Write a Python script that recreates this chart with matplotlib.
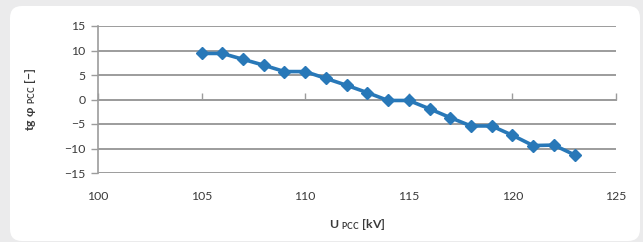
import matplotlib
matplotlib.use("Agg")
import matplotlib.pyplot as plt
from matplotlib.patches import FancyBboxPatch

u_pcc = [105, 106, 107, 108, 109, 110, 111, 112, 113, 114, 115, 116, 117, 118, 119, 120, 121, 122, 123]
tg_phi = [9.4, 9.4, 8.2, 7.0, 5.7, 5.7, 4.3, 2.9, 1.4, -0.2, -0.2, -1.9, -3.7, -5.4, -5.4, -7.3, -9.4, -9.3, -11.3]
x_ticks = [100, 105, 110, 115, 120, 125]
y_ticks = [-15, -10, -5, 0, 5, 10, 15]

plt.rcParams['font.family'] = ['Lato', 'DejaVu Sans']
plt.rcParams['mathtext.fontset'] = 'custom'
plt.rcParams['mathtext.rm'] = 'Lato:weight=bold'
plt.rcParams['mathtext.bf'] = 'Lato:weight=bold'
plt.rcParams['mathtext.it'] = 'Lato:weight=bold'

W, H = 643, 242
fig = plt.figure(figsize=(W / 100, H / 100), dpi=100)
fig.patch.set_facecolor('#ebebec')

panel = FancyBboxPatch((0.10, 0.01), 6.30, 2.35,
                       boxstyle="round,pad=0,rounding_size=0.12",
                       transform=fig.dpi_scale_trans, facecolor='white',
                       edgecolor='none', zorder=0)
fig.patches.append(panel)

ax = fig.add_axes([98 / W, 1 - 173 / H, (616 - 98) / W, (173 - 26) / H])
ax.set_zorder(2)
ax.set_facecolor('none')
ax.set_xlim(100, 125)
ax.set_ylim(-15, 15)

grid_c = '#9c9c9c'
ax.set_yticks(y_ticks)
ax.set_xticks(x_ticks)
ax.grid(axis='y', color=grid_c, linewidth=1.4)
ax.set_axisbelow(True)

for s in ['top', 'right']:
    ax.spines[s].set_visible(False)
ax.spines['left'].set_color(grid_c)
ax.spines['left'].set_linewidth(1.2)
ax.spines['bottom'].set_position(('data', 0))
ax.spines['bottom'].set_color(grid_c)
ax.spines['bottom'].set_linewidth(1.4)

ax.tick_params(axis='y', direction='out', length=5, color=grid_c, width=1,
               labelsize=8.8, labelcolor='#3a3a3a', pad=4)
ax.tick_params(axis='x', direction='in', length=5, color=grid_c, width=1,
               labelsize=8.8, labelcolor='#3a3a3a', pad=66)

ax.plot(u_pcc, tg_phi, color='#2878b8', linewidth=2.6, marker='D',
        markersize=6.5, markerfacecolor='#2878b8', markeredgecolor='#2878b8',
        zorder=3, clip_on=False)

ax.set_xlabel(r'$\mathbf{U}\ _{\mathbf{PCC}}\ \mathbf{[kV]}$', fontsize=8.8,
              color='#3a3a3a', labelpad=0, fontweight='bold')
ax.xaxis.set_label_coords(0.5, -0.30)
ax.set_ylabel(r'$\mathbf{tg}\ \mathbf{φ}\ _{\mathbf{PCC}}\ \mathbf{[-]}$', fontsize=8.8,
              color='#3a3a3a', fontweight='bold')
ax.yaxis.set_label_coords(-0.115, 0.5)

fig.savefig('out.png', dpi=100, facecolor=fig.get_facecolor())
